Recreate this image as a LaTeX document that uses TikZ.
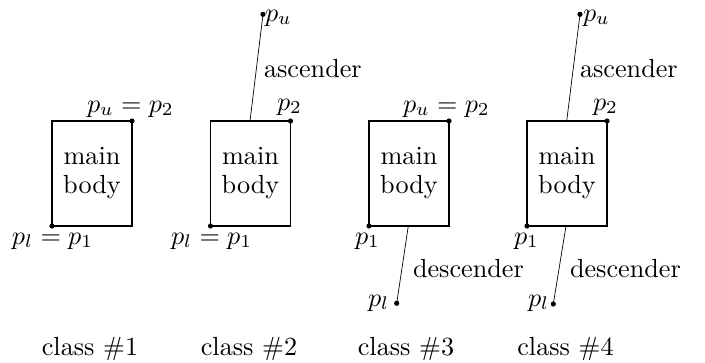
\RequirePackage{fix-cm}
\documentclass[tikz,border=0pt]{standalone}
\begin{document}
\begin{tikzpicture}[x=1pt,y=-1pt,
  every node/.style={inner sep=0pt,outer sep=0pt},
  txt/.style={scale=2.62,font=\fontsize{10}{10.7}\selectfont},
  bodybox/.style={draw,line width=1.9pt,minimum width=80pt,minimum height=105pt},
  lbl/.style={txt,anchor=base west},
  stem/.style={line width=0.7pt}]
\useasboundingbox (0,0) rectangle (705,362);
% boxes
\node[bodybox] (b1) at (92,173.5) {};
\node[bodybox] (b2) at (250.5,173.5) {};
\node[bodybox] (b3) at (409,173.5) {};
\node[bodybox] (b4) at (567,173.5) {};
\foreach \b in {b1,b2,b3,b4}{
  \node[txt,anchor=base,align=center] at ([yshift=-19.5pt]\b.center) {main\\body};
}
% stems
\coordinate (u2) at (263,14.3);
\coordinate (u4) at (580,14.3);
\coordinate (l3) at (396.7,303.3);
\coordinate (l4) at (553.3,304);
\draw[stem] (b2.north -| 250,0) -- (u2);
\draw[stem] (b3.south -| 408.3,0) -- (l3);
\draw[stem] (b4.north -| 566.7,0) -- (u4);
\draw[stem] (b4.south -| 566,0) -- (l4);
% dots
\foreach \p in {b1.north east,b1.south west,b2.north east,b2.south west,
                b3.north east,b3.south west,b4.north east,b4.south west,
                u2,u4,l3,l4}{
  \fill (\p) circle (2.6pt);
}
% class 1
\node[lbl] (t1u) at (87,112) {$p_u = p_2$};
\node[lbl] (t1l) at (12,244) {$p_l = p_1$};
% class 2
\node[lbl] (t2u) at (265,21) {$p_u$};
\node[lbl] (t2a) at (264,77) {ascender};
\node[lbl] (t2p) at (277,110) {$p_2$};
\node[lbl] (t2l) at (171,244) {$p_l = p_1$};
% class 3
\node[lbl] (t3u) at (403,112) {$p_u = p_2$};
\node[lbl] (t3p) at (355,244) {$p_1$};
\node[lbl] (t3d) at (413,277) {descender};
\node[lbl] (t3l) at (368,306) {$p_l$};
% class 4
\node[lbl] (t4u) at (583,21) {$p_u$};
\node[lbl] (t4a) at (580,77) {ascender};
\node[lbl] (t4p) at (593,110) {$p_2$};
\node[lbl] (t4q) at (514,244) {$p_1$};
\node[lbl] (t4d) at (570,277) {descender};
\node[lbl] (t4l) at (528,306) {$p_l$};
% class captions
\node[txt,anchor=base] (c1) at (90,355) {class \#1};
\node[txt,anchor=base] (c2) at (249,355) {class \#2};
\node[txt,anchor=base] (c3) at (406,355) {class \#3};
\node[txt,anchor=base] (c4) at (565.5,355) {class \#4};
\end{tikzpicture}
\end{document}
